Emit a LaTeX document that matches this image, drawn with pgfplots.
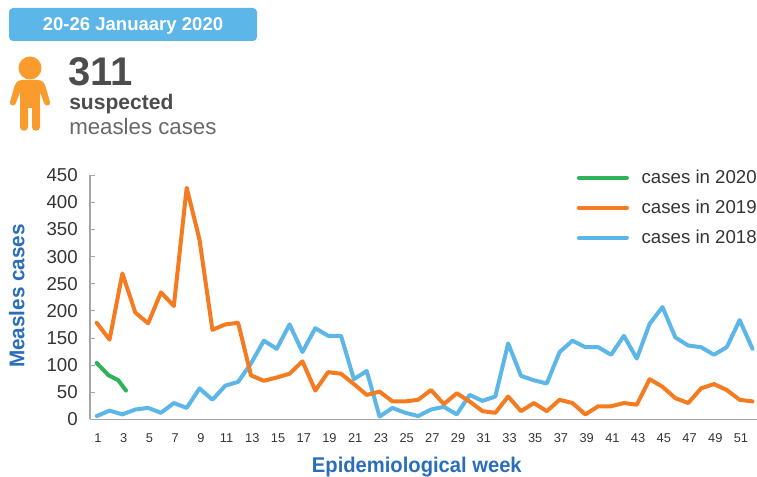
\documentclass[border=0pt]{standalone}
\usepackage{pgfplots}
\pgfplotsset{compat=1.18}
\usepackage{fontspec}
\setmainfont{Liberation Sans}
\definecolor{cblue}{HTML}{5CB6E8}
\definecolor{corange}{HTML}{F47B20}
\definecolor{cgreen}{HTML}{2FB35A}
\definecolor{ctitle}{HTML}{2A6EBB}
\definecolor{cdark}{HTML}{4D4D4F}
\definecolor{cicon}{HTML}{FA9B2E}
\definecolor{caxis}{HTML}{A6A6A6}
\definecolor{ctext}{HTML}{333333}
\begin{document}
\begin{tikzpicture}
\begin{scope}[x=0.75pt,y=-0.75pt]
\coordinate (O) at (90,419.3);
% banner
\fill[cblue,rounded corners=3pt] (9,8) rectangle (257,41);
\node[text=white,font=\bfseries\fontsize{13.9pt}{14pt}\selectfont] at (133,26) {20-26 Januaary 2020};
% person icon
\fill[cicon] (30,68) circle (11.5);
\fill[cicon] (22,80) -- (38,80) .. controls (43,80) and (45,84) .. (46,88) -- (50,102) .. controls (51,106) and (45,107) .. (44,103) -- (40,92) -- (40,127) .. controls (40,132) and (32,132) .. (32,127) -- (32,108) -- (28,108) -- (28,127) .. controls (28,132) and (20,132) .. (20,127) -- (20,92) -- (16,103) .. controls (15,107) and (9,106) .. (10,102) -- (14,88) .. controls (15,84) and (17,80) .. (22,80) -- cycle;
% headline
\node[anchor=base west,inner sep=0,text=cdark,font=\bfseries\fontsize{30pt}{32pt}\selectfont] at (68,86) {311};
\node[anchor=base west,inner sep=0,text=cdark,font=\bfseries\fontsize{15.8pt}{17pt}\selectfont] at (69,110) {suspected};
\node[anchor=base west,inner sep=0,text=cdark!85,font=\fontsize{16.7pt}{17pt}\selectfont] at (69,135) {measles cases};
\end{scope}
\begin{axis}[
  at={(O)},anchor=south west,
  scale only axis,width=500.25pt,height=183pt,
  xmin=0.48,xmax=52.35,ymin=0,ymax=450,
  axis x line*=bottom,axis y line*=left,
  axis line style={caxis,line width=0.9pt,-},
  xtick={1,3,...,51},ytick={0,50,...,450},
  major tick length=3.75pt,
  x tick style={draw=none},
  y tick style={caxis,line width=0.7pt},
  /pgf/number format/assume math mode=true,
  tick label style={text=ctext},
  yticklabel style={font=\fontsize{14pt}{14pt}\selectfont,inner sep=0pt,xshift=-9pt},
  xticklabel style={font=\fontsize{9.6pt}{10pt}\selectfont,inner sep=0pt,yshift=-10.3pt,xshift=1pt},
  xlabel={\scalebox{0.946}[1]{Epidemiological week}},
  ylabel={\scalebox{0.97}[1]{Measles cases}},
  xlabel style={at={(axis description cs:0.49,-0.197)},anchor=center,inner sep=0,text=ctitle,font=\bfseries\fontsize{16pt}{17pt}\selectfont},
  ylabel style={at={(axis description cs:-0.11,0.505)},anchor=center,inner sep=0,text=ctitle,font=\bfseries\fontsize{16pt}{17pt}\selectfont},
  clip=false,
  reverse legend,
  legend cell align=left,
  legend style={draw=none,fill=none,at={(axis description cs:0.73,1.032)},anchor=north west,inner sep=0pt,outer sep=0pt,
    font=\fontsize{14pt}{15pt}\selectfont,text=ctext,row sep=6.8pt},
  legend image code/.code={\draw[#1,line cap=round] (0,0) -- (36pt,0);\path[draw=none] (0,0) -- (45pt,0);},
  every axis plot/.style={line width=3pt,line join=round,line cap=round,no markers},
]
\addplot[cblue] coordinates {(1,6)(2,16)(3,9)(4,18)(5,21)(6,12)(7,30)(8,21)(9,57)(10,36)(11,62)(12,69)(13,103)(14,145)(15,130)(16,175)(17,124)(18,168)(19,154)(20,154)(21,74)(22,89)(23,5)(24,21)(25,12)(26,6)(27,18)(28,23)(29,9)(30,45)(31,34)(32,42)(33,140)(34,80)(35,72)(36,66)(37,124)(38,145)(39,133)(40,133)(41,119)(42,154)(43,112)(44,176)(45,207)(46,151)(47,136)(48,133)(49,119)(50,133)(51,183)(52,130)};
\addlegendentry{cases in 2018}
\addplot[corange] coordinates {(1,178)(2,147)(3,269)(4,197)(5,177)(6,234)(7,209)(8,427)(9,331)(10,165)(11,175)(12,178)(13,81)(14,71)(15,77)(16,84)(17,107)(18,53)(19,87)(20,84)(21,65)(22,45)(23,51)(24,33)(25,33)(26,36)(27,54)(28,28)(29,48)(30,33)(31,15)(32,12)(33,42)(34,15)(35,30)(36,15)(37,36)(38,30)(39,9)(40,24)(41,24)(42,30)(43,27)(44,74)(45,60)(46,39)(47,30)(48,57)(49,65)(50,54)(51,36)(52,33)};
\addlegendentry{cases in 2019}
\addplot[cgreen] coordinates {(1,104)(1.93,81)(2.68,72)(3.28,53)};
\addlegendentry{cases in 2020}
\end{axis}
\pgfresetboundingbox
\path[use as bounding box,x=0.75pt,y=-0.75pt] (0,0) rectangle (757,477);
\end{tikzpicture}
\end{document}
